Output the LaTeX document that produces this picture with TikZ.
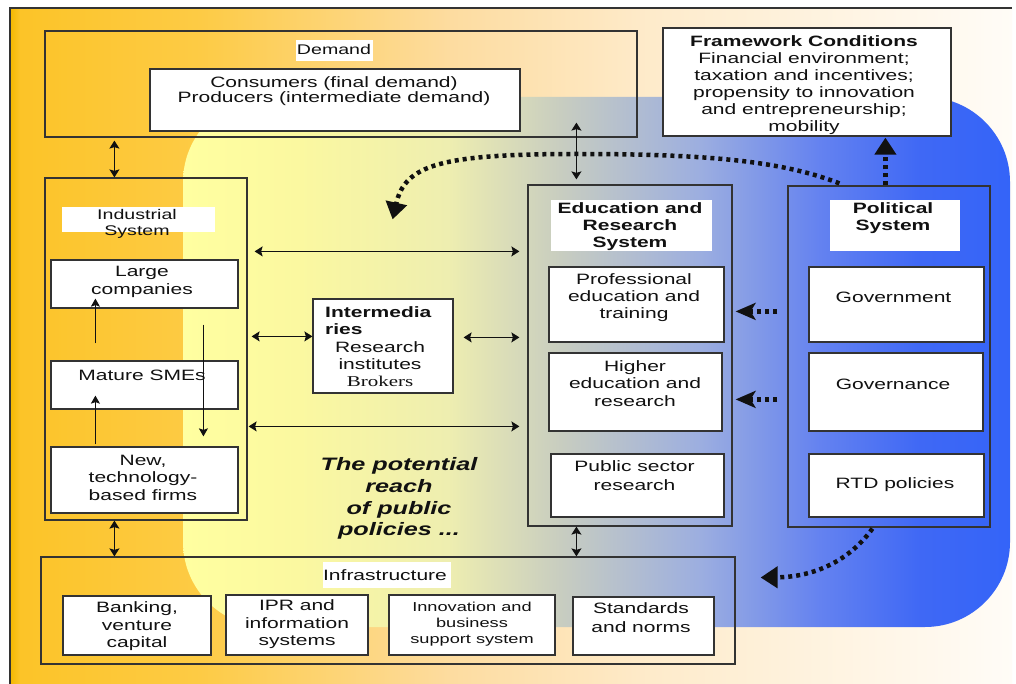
\documentclass[tikz,border=0pt]{standalone}
\usepackage{fontspec}
\setmainfont{Liberation Sans}[FakeStretch=1.4]
\newfontfamily\brokersfont{Liberation Serif}[FakeStretch=1.4]
\usetikzlibrary{arrows.meta,fit,calc}
\definecolor{bgA}{HTML}{F4B800}
\definecolor{bgB}{HTML}{FCC428}
\definecolor{bgC}{HTML}{FDCB45}
\definecolor{bgD}{HTML}{FDDCA0}
\definecolor{bgE}{HTML}{FEEBCB}
\definecolor{bgF}{HTML}{FFFCF7}
\definecolor{blA}{HTML}{FFFFA0}
\definecolor{blB}{HTML}{FBF8A0}
\definecolor{blC}{HTML}{EEEEB0}
\definecolor{blD}{HTML}{C8CDC0}
\definecolor{blE}{HTML}{9CAEE0}
\definecolor{blF}{HTML}{6482F0}
\definecolor{blG}{HTML}{3F68F5}
\definecolor{blH}{HTML}{3464F8}
\definecolor{ink}{HTML}{111111}
\definecolor{frame}{HTML}{333333}
\pgfdeclarehorizontalshading{bgshade}{100bp}{color(0bp)=(bgA); color(25bp)=(bgA); color(25.5bp)=(bgB); color(34.5bp)=(bgC); color(47bp)=(bgD); color(57bp)=(bgE); color(75bp)=(bgF); color(100bp)=(bgF)}
\pgfdeclarehorizontalshading{blobshade}{100bp}{color(0bp)=(blA); color(25bp)=(blA); color(32bp)=(blB); color(41bp)=(blC); color(47.8bp)=(blD); color(56.3bp)=(blE); color(63.5bp)=(blF); color(69.6bp)=(blG); color(75bp)=(blH); color(100bp)=(blH)}
\begin{document}
\begin{tikzpicture}[x=1pt,y=-1pt,
  box/.style={draw=frame, line width=1.2pt, inner sep=0pt},
  wbox/.style={box, fill=white},
  txt/.style={align=center, inner sep=0pt, text=ink, font=\fontsize{15}{17.3}\selectfont},
  dbl/.style={{Stealth[length=8pt,width=10pt,inset=1.5pt]}-{Stealth[length=8pt,width=10pt,inset=1.5pt]}, line width=1.4pt, draw=ink},
  sgl/.style={-{Stealth[length=8pt,width=9pt,inset=1.5pt]}, line width=1.3pt, draw=ink},
  dots/.style={line width=4.5pt, draw=ink, dash pattern=on 4pt off 4pt, -{Triangle[length=17pt,width=21pt]}},
  sdots/.style={dots, -{Stealth[length=20pt,width=17pt,inset=5pt]}}
]
\useasboundingbox (0,0) rectangle (1016,684);
\fill[white] (0,0) rectangle (1016,684);
\shade[shading=bgshade] (10,8) rectangle (1012,684);
\draw[line width=1.3pt, frame] (10,684) -- (10,8) -- (1012,8);
\shade[shading=blobshade, rounded corners=85pt] (183,97) rectangle (1010,627);

% outer system boxes
\node[box, fit={(45,31) (637,137)}] (demand) {};
\node[box, fit={(45,178) (247,520)}] (ind) {};
\node[box, fit={(528,185) (732,526)}] (edu) {};
\node[box, fit={(788,186) (990,527)}] (pol) {};
\node[box, fit={(41,557) (735,664)}] (infra) {};

% white label patches
\fill[white] (296,40) rectangle (373,61);
\fill[white] (62,207) rectangle (215,232);
\fill[white] (551,200) rectangle (712,251);
\fill[white] (830,200) rectangle (960,251);
\fill[white] (323,562) rectangle (451,588);

% inner boxes
\node[wbox, fit={(150,69) (520,131)}] (cons) {};
\node[wbox, fit={(663,28) (951,136)}] (frame) {};
\node[wbox, fit={(51,260) (238,308)}] (large) {};
\node[wbox, fit={(51,361) (238,409)}] (mature) {};
\node[wbox, fit={(51,447) (238,513)}] (newf) {};
\node[wbox, fit={(313,299) (453,393)}] (inter) {};
\node[wbox, fit={(549,267) (724,342)}] (prof) {};
\node[wbox, fit={(549,353) (722,431)}] (higher) {};
\node[wbox, fit={(551,454) (724,517)}] (public) {};
\node[wbox, fit={(809,267) (984,342)}] (gov) {};
\node[wbox, fit={(809,353) (983,431)}] (govn) {};
\node[wbox, fit={(809,454) (984,517)}] (rtd) {};
\node[wbox, fit={(63,596) (211,655)}] (bank) {};
\node[wbox, fit={(226,595) (368,655)}] (ipr) {};
\node[wbox, fit={(389,595) (555,655)}] (innov) {};
\node[wbox, fit={(573,597) (714,655)}] (stand) {};

% texts
\node[txt, font=\fontsize{14}{16}\selectfont] (tdemand) at (334,50) {Demand};
\node[txt, font=\fontsize{15}{15}\selectfont] (tcons) at (334,91.5) {Consumers (final demand)\\Producers (intermediate demand)};
\node[txt, font=\fontsize{15}{17}\selectfont] (tframe) at (804,85.5) {{\bfseries Framework Conditions}\\Financial environment;\\taxation and incentives;\\propensity to innovation\\and entrepreneurship;\\mobility};
\node[txt, font=\fontsize{14}{16}\selectfont] (tind) at (137,224) {Industrial\\System};
\node[txt, font=\fontsize{15}{18}\selectfont] (tlarge) at (142,282) {Large\\companies};
\node[txt] (tmature) at (142,375) {Mature SMEs};
\node[txt, font=\fontsize{15}{17.5}\selectfont] (tnew) at (143,477.5) {New,\\technology-\\based firms};
\node[txt, align=left, anchor=west, font=\bfseries\fontsize{15}{17}\selectfont] (tinter) at (325,320.5) {Intermedia\\ries};
\node[txt, font=\fontsize{15}{17}\selectfont] (tinter2) at (380,364) {Research\\institutes\\{\brokersfont Brokers}};
\node[txt, font=\bfseries\fontsize{15}{17}\selectfont] (tedu) at (630,227) {Education and\\Research\\System};
\node[txt, font=\fontsize{15}{17}\selectfont] (tprof) at (634,298) {Professional\\education and\\training};
\node[txt, font=\fontsize{15}{17.5}\selectfont] (thigher) at (635,383.5) {Higher\\education and\\research};
\node[txt, font=\fontsize{15}{19}\selectfont] (tpublic) at (634.5,475.5) {Public sector\\research};
\node[txt, font=\bfseries\fontsize{15}{17}\selectfont] (tpol) at (893,218.5) {Political\\System};
\node[txt] (tgov) at (893.5,297) {Government};
\node[txt] (tgovn) at (893,384) {Governance};
\node[txt] (trtd) at (895,485) {RTD policies};
\node[txt, font=\bfseries\itshape\fontsize{18}{21.7}\selectfont] (tpot) at (399,498.5) {The potential\\reach\\of public\\policies ...};
\node[txt] (tinfra) at (385,575) {Infrastructure};
\node[txt, font=\fontsize{15}{17.5}\selectfont] (tbank) at (137,626.5) {Banking,\\venture\\capital};
\node[txt, font=\fontsize{15}{17.5}\selectfont] (tipr) at (297,624.5) {IPR and\\information\\systems};
\node[txt, font=\fontsize{13}{16}\selectfont] (tinnov) at (472,624) {Innovation and\\business\\support system};
\node[txt, font=\fontsize{15}{19}\selectfont] (tstand) at (641,617.5) {Standards\\and norms};

% solid connectors
\draw[dbl] ($(demand.south west)+(70,3)$) -- ($(ind.north west)+(70,0)$);
\draw[dbl] ($(demand.south west)+(532,-15)$) -- ($(edu.north west)+(49,-5)$);
\draw[dbl] ($(ind.north east)+(7,74)$) -- ($(edu.north west)+(-8,67)$);
\draw[dbl] ($(ind.north east)+(4,159)$) -- ($(inter.north west)+(0,38)$);
\draw[dbl] ($(inter.north east)+(10,39)$) -- ($(edu.north west)+(-8,153)$);
\draw[dbl] ($(ind.north east)+(1,249)$) -- ($(edu.north west)+(-8,242)$);
\draw[dbl] ($(ind.south west)+(70,0)$) -- ($(infra.north west)+(74,0)$);
\draw[dbl] ($(edu.south west)+(49,0)$) -- ($(infra.north west)+(536,0)$);
\draw[sgl] ($(mature.north west)+(45,-17)$) -- ($(large.south west)+(45,-10)$);
\draw[sgl] ($(newf.north west)+(45,-2)$) -- ($(mature.south west)+(45,-14)$);
\draw[sgl] ($(large.south west)+(153,16)$) -- ($(newf.north west)+(153,-10)$);

% dotted policy connectors
\coordinate (curvetip) at ($(ind.north east)+(145,42)$);
\coordinate (infratip) at ($(infra.east)+(25,-33)$);
\draw[sdots] ($(pol.north west)+(-10,126)$) -- ($(prof.north east)+(11,45)$);
\draw[sdots] ($(pol.north west)+(-10,214)$) -- ($(higher.north east)+(13,47)$);
\draw[dots] ($(pol.north west)+(98,0)$) -- ($(frame.south west)+(223,1)$);
\draw[dots] ($(pol.north west)+(52,-2)$) .. controls (780,160) and (700,154) .. (577,154)
   .. controls (440,154) and (405,165) .. (curvetip);
\draw[dots] ($(pol.south west)+(85,1)$) .. controls (850,560) and (815,577) .. (infratip);
\end{tikzpicture}
\end{document}
